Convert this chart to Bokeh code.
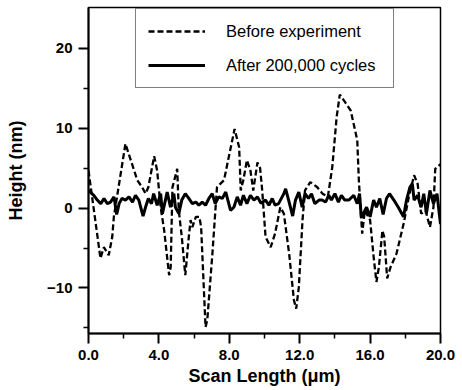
from bokeh.plotting import figure
from bokeh.models import Range1d, FixedTicker, NumeralTickFormatter, Legend, LegendItem
from bokeh.embed import file_html
from bokeh.resources import INLINE

# "Before experiment" profile
before_x = [0, 0.68, 0.87, 1.15, 1.35, 1.44, 2.1, 2.77, 3.05, 3.24,
            3.4, 3.73, 3.9, 4.1, 4.3, 4.58, 4.67, 4.77, 5.04, 5.13,
            5.3, 5.5, 5.7, 5.8, 5.9, 6.1, 6.3, 6.4, 6.65, 6.75,
            7.04, 7.3, 7.7, 8.3, 8.56, 8.65, 8.8, 9.0, 9.2, 9.36,
            9.6, 9.75, 9.87, 10.06, 10.35, 10.6, 10.9, 11.1, 11.4, 11.67,
            11.8, 11.95, 12.16, 12.3, 12.6, 13.0, 13.3, 13.6, 13.85, 14.1,
            14.28, 14.5, 14.9, 15.27, 15.36, 15.55, 15.7, 16.0, 16.2, 16.36,
            16.5, 16.7, 16.8, 16.97, 17.16, 17.5, 17.9, 18.2, 18.5, 18.7,
            18.9, 19.15, 19.4, 19.6, 19.7, 20.0]
before_y = [4.7, -6.3, -4.9, -5.9, -3.6, -1.1, 8.05, 3.5, 2.6, 1.8,
            2.6, 6.5, 4.7, 0.1, -2.8, -8.4, -7.4, 2.6, 4.9, -0.3,
            -3.6, -8.4, -3.6, -1.5, -2.4, -1.1, -1.1, -2.4, -14.9, -14.0,
            -5.7, 2.6, 3.5, 9.9, 7.6, 2.2, 3.5, 6.0, 4.7, 2.2,
            5.7, 5.0, 2.2, -3.6, -4.9, -3.2, 0.1, -0.7, -5.7, -11.5,
            -12.6, -9.9, -1.5, 2.2, 3.25, 2.6, 1.8, 1.4, 5.1, 11.4,
            14.2, 13.5, 12.2, 8.5, 3.5, -3.2, -0.3, -1.5, -6.1, -9.25,
            -7.4, -2.8, -3.6, -8.8, -7.4, -5.7, -2.0, 1.4, 4.1, 3.05,
            -0.7, -0.3, -2.4, 0.1, 4.9, 5.5]

# "After 200,000 cycles" profile
after_x = [0, 0.3, 0.5, 0.7, 0.88, 1.07, 1.25, 1.45, 1.6, 1.74,
           1.9, 2.1, 2.3, 2.5, 2.67, 2.86, 3.1, 3.24, 3.4, 3.58,
           3.7, 3.9, 4.1, 4.2, 4.47, 4.66, 4.85, 4.94, 5.13, 5.3,
           5.5, 5.7, 5.9, 6.1, 6.27, 6.46, 6.65, 6.84, 7.03, 7.2,
           7.4, 7.6, 7.8, 8.07, 8.26, 8.45, 8.64, 8.8, 9.0, 9.2,
           9.4, 9.6, 9.8, 10.06, 10.25, 10.44, 10.6, 10.8, 11.1, 11.2,
           11.4, 11.6, 11.76, 11.95, 12.14, 12.3, 12.5, 12.67, 12.86, 13.1,
           13.27, 13.47, 13.65, 13.8, 14.0, 14.2, 14.37, 14.56, 14.8, 15.07,
           15.27, 15.4, 15.5, 15.8, 16.0, 16.2, 16.36, 16.55, 16.74, 16.93,
           17.1, 17.35, 17.6, 17.9, 18.07, 18.26, 18.4, 18.5, 18.7, 18.9,
           19.05, 19.2, 19.4, 19.6, 19.8, 19.92, 20.0]
after_y = [2.2, 1.6, 1.0, 0.55, 1.2, 0.55, 0.75, 1.4, -0.8, 0.55,
           1.2, 1.0, 1.4, 0.75, 1.6, 1.0, -1.0, 0.1, 1.2, 0.55,
           1.8, 0.35, 1.8, -0.7, 2.0, 0.1, 1.8, 0.1, -0.7, 1.0,
           1.8, 1.2, 0.55, 0.75, 0.35, 0.75, 0.35, 1.2, 1.8, 0.55,
           1.4, 1.2, 2.0, -0.3, 0.1, 1.4, 0.35, 1.6, 0.55, 1.6,
           1.0, 1.4, 0.6, 1.0, 0.35, 1.2, 0.35, 0.55, 1.8, 2.4,
           0.75, -1.0, 1.0, 2.0, 0.1, 1.8, 1.2, 1.8, 0.55, 1.0,
           1.0, 0.75, 1.6, 1.0, 1.8, 0.75, 1.6, 1.0, 1.0, 1.6,
           0.55, 1.8, -1.2, 0.1, -1.1, 1.0, 0.1, 1.2, -0.8, 1.2,
           1.8, 1.0, 0.1, -1.1, 1.0, 2.6, 3.05, 1.0, 1.6, 0.1,
           1.8, -0.7, 2.2, 0.55, 1.8, -0.5, -2.0]

x_major = [0, 4, 8, 12, 16, 20]
x_minor = [2, 6, 10, 14, 18]
y_major = [-10, 0, 10, 20]
y_minor = [-15, -5, 5, 15]

FONT = "Liberation Sans"

p = figure(width=462, height=390, output_backend="svg", toolbar_location=None,
           x_range=Range1d(0, 20), y_range=Range1d(-15.7, 25.1),
           min_border_left=88, min_border_right=22, min_border_top=7, min_border_bottom=57)
p.background_fill_color = "white"
p.border_fill_color = "white"
p.xgrid.visible = False
p.ygrid.visible = False
p.outline_line_color = "black"
p.outline_line_width = 1.5

r1 = p.line(before_x, before_y, line_color="black", line_width=2.3, line_dash="6 3")
r2 = p.line(after_x, after_y, line_color="black", line_width=3)

for ax in (p.xaxis[0], p.yaxis[0]):
    ax.axis_line_width = 2
    ax.major_tick_out = 10
    ax.major_tick_in = 0
    ax.minor_tick_out = 5
    ax.minor_tick_in = 0
    ax.major_tick_line_width = 2
    ax.minor_tick_line_width = 1.5
    ax.major_label_text_font = FONT
    ax.major_label_text_font_style = "bold"
    ax.major_label_text_font_size = "15px"
    ax.major_label_text_color = "black"
    ax.axis_label_text_font = FONT
    ax.axis_label_text_font_style = "bold"
    ax.axis_label_text_font_size = "18px"
    ax.axis_label_text_color = "black"

p.xaxis.ticker = FixedTicker(ticks=x_major, minor_ticks=x_minor)
p.yaxis.ticker = FixedTicker(ticks=y_major, minor_ticks=y_minor)
p.xaxis.formatter = NumeralTickFormatter(format="0.0")
p.xaxis.axis_label = "Scan Length (μm)"
p.yaxis.axis_label = "Height (nm)"
p.xaxis.major_label_standoff = 6
p.yaxis.major_label_standoff = 6
p.xaxis.axis_label_standoff = 3
p.yaxis.axis_label_standoff = 18

legend = Legend(items=[LegendItem(label="Before experiment", renderers=[r1]),
                       LegendItem(label="After 200,000 cycles", renderers=[r2])],
                location=(47, 245))
legend.glyph_width = 57
legend.label_standoff = 21
legend.label_width = 155
legend.padding = 12
legend.spacing = 14
legend.margin = 0
legend.border_line_color = "black"
legend.border_line_width = 1
legend.label_text_font = FONT
legend.label_text_font_size = "16.5px"
legend.label_text_color = "black"
p.add_layout(legend)

open("out.html", "w").write(file_html(p, INLINE))
